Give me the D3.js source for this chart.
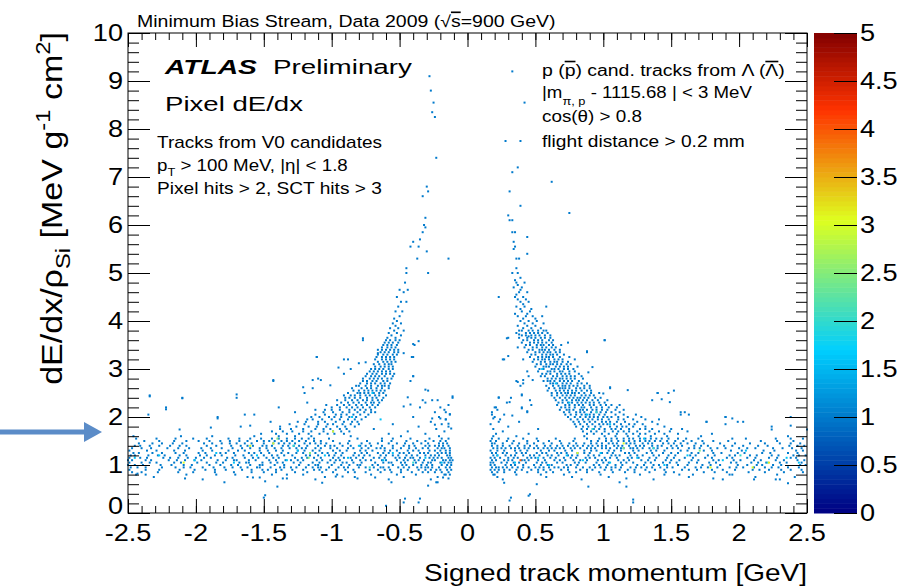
<!DOCTYPE html>
<html>
<head>
<meta charset="utf-8">
<script src="https://cdn.jsdelivr.net/npm/d3@7"></script>
<style>
  html, body { margin: 0; padding: 0; background: #fff; }
  svg { display: block; }
  text { font-family: "Liberation Sans", Arial, Helvetica, sans-serif; fill: #000; }
</style>
</head>
<body>
<div id="chart"></div>
<script>
//////////////////////////////////////////////////////////////////////////////
// Data

var xTicks = [-2.5, -2, -1.5, -1, -0.5, 0, 0.5, 1, 1.5, 2, 2.5];
var xTickLabels = ["-2.5", "-2", "-1.5", "-1", "-0.5", "0", "0.5", "1", "1.5", "2", "2.5"];
var yTicks = [0, 1, 2, 3, 4, 5, 6, 7, 8, 9, 10];
var yTickLabels = ["0", "1", "2", "3", "4", "5", "6", "7", "8", "9", "10"];
var zTicks = [0, 0.5, 1, 1.5, 2, 2.5, 3, 3.5, 4, 4.5, 5];
var zTickLabels = ["0", "0.5", "1", "1.5", "2", "2.5", "3", "3.5", "4", "4.5", "5"];

// filled bins with one entry: [dE/dx, [signed momenta]]
var mipNeg = [
  [0.70, [-1.95, -1.12, -0.58, -0.27]],
  [0.75, [-2.31, -1.62, -1.05, -0.83, -0.47, -0.22]],
  [0.80, [-2.44, -2.07, -1.71, -1.44, -1.33, -0.96, -0.71, -0.52, -0.38, -0.17, -0.13]],
  [0.85, [-2.47, -2.28, -2.02, -1.86, -1.59, -1.41, -1.27, -1.18, -0.99, -0.88, -0.83, -0.64, -0.49, -0.41, -0.33, -0.24, -0.14]],
  [0.90, [-2.49, -2.37, -2.12, -1.93, -1.78, -1.66, -1.51, -1.47, -1.37, -1.29, -1.13, -1.04, -0.97, -0.90, -0.72, -0.61, -0.57, -0.44, -0.36, -0.27, -0.20, -0.15, -0.12]],
  [0.95, [-2.48, -2.43, -2.25, -2.15, -2.04, -1.87, -1.79, -1.73, -1.62, -1.55, -1.53, -1.38, -1.30, -1.26, -1.19, -1.10, -1.08, -0.95, -0.88, -0.80, -0.69, -0.64, -0.62, -0.51, -0.43, -0.37, -0.31, -0.29, -0.21, -0.16, -0.13]],
  [1.00, [-2.50, -2.45, -2.39, -2.26, -2.18, -2.09, -2.03, -1.90, -1.82, -1.74, -1.69, -1.60, -1.53, -1.51, -1.42, -1.35, -1.24, -1.17, -1.12, -1.10, -1.00, -0.93, -0.87, -0.81, -0.79, -0.70, -0.66, -0.55, -0.48, -0.45, -0.40, -0.34, -0.30, -0.26, -0.19, -0.15, -0.12]],
  [1.05, [-2.49, -2.40, -2.34, -2.29, -2.16, -2.11, -1.99, -1.92, -1.85, -1.80, -1.68, -1.63, -1.61, -1.51, -1.45, -1.40, -1.36, -1.28, -1.23, -1.14, -1.09, -1.03, -0.98, -0.92, -0.89, -0.84, -0.78, -0.68, -0.62, -0.58, -0.56, -0.49, -0.46, -0.38, -0.33, -0.29, -0.27, -0.20, -0.17, -0.14, -0.12]],
  [1.10, [-2.50, -2.47, -2.37, -2.33, -2.20, -2.14, -2.08, -2.01, -1.96, -1.84, -1.78, -1.72, -1.70, -1.61, -1.56, -1.46, -1.41, -1.34, -1.30, -1.25, -1.21, -1.11, -1.07, -1.01, -0.97, -0.94, -0.85, -0.79, -0.75, -0.71, -0.63, -0.60, -0.52, -0.47, -0.44, -0.39, -0.36, -0.32, -0.26, -0.24, -0.18, -0.16, -0.13, -0.11]],
  [1.15, [-2.49, -2.41, -2.36, -2.24, -2.19, -2.13, -2.06, -2.00, -1.94, -1.89, -1.77, -1.73, -1.64, -1.58, -1.54, -1.48, -1.43, -1.39, -1.27, -1.22, -1.18, -1.13, -1.08, -0.99, -0.95, -0.91, -0.86, -0.82, -0.77, -0.69, -0.65, -0.61, -0.53, -0.50, -0.46, -0.42, -0.40, -0.35, -0.28, -0.25, -0.22, -0.19, -0.14, -0.12]],
  [1.20, [-2.48, -2.45, -2.35, -2.28, -2.23, -2.12, -2.07, -1.97, -1.92, -1.86, -1.81, -1.71, -1.65, -1.59, -1.50, -1.44, -1.40, -1.35, -1.29, -1.19, -1.16, -1.10, -1.02, -0.98, -0.93, -0.84, -0.80, -0.76, -0.72, -0.64, -0.60, -0.55, -0.51, -0.45, -0.41, -0.37, -0.31, -0.27, -0.24, -0.21, -0.15, -0.13]],
  [1.25, [-2.46, -2.42, -2.32, -2.25, -2.15, -2.09, -1.98, -1.93, -1.82, -1.78, -1.72, -1.61, -1.57, -1.52, -1.46, -1.37, -1.32, -1.26, -1.21, -1.12, -1.07, -1.03, -0.97, -0.92, -0.83, -0.78, -0.74, -0.66, -0.62, -0.58, -0.50, -0.47, -0.43, -0.35, -0.32, -0.29, -0.22, -0.19, -0.16, -0.13]],
  [1.30, [-2.49, -2.36, -2.29, -2.16, -2.08, -1.95, -1.88, -1.76, -1.69, -1.64, -1.53, -1.47, -1.41, -1.36, -1.25, -1.20, -1.14, -1.09, -0.99, -0.94, -0.89, -0.79, -0.75, -0.70, -0.61, -0.57, -0.52, -0.44, -0.40, -0.36, -0.28, -0.24, -0.20, -0.16, -0.13]],
  [1.35, [-2.47, -2.40, -2.21, -2.13, -1.96, -1.89, -1.73, -1.66, -1.60, -1.48, -1.42, -1.31, -1.26, -1.19, -1.08, -1.01, -0.96, -0.84, -0.78, -0.67, -0.61, -0.55, -0.43, -0.38, -0.33, -0.22, -0.17, -0.13]],
  [1.40, [-2.45, -2.34, -2.19, -2.07, -1.85, -1.74, -1.67, -1.58, -1.51, -1.44, -1.32, -1.24, -1.18, -1.05, -0.98, -0.92, -0.79, -0.71, -0.63, -0.47, -0.39, -0.31, -0.24, -0.18, -0.14]],
  [1.45, [-2.42, -2.25, -2.10, -1.94, -1.81, -1.70, -1.59, -1.50, -1.43, -1.35, -1.27, -1.20, -1.12, -1.04, -0.88, -0.78, -0.66, -0.52, -0.40, -0.29, -0.21, -0.15]],
  [1.50, [-2.38, -2.16, -1.98, -1.82, -1.68, -1.55, -1.46, -1.37, -1.29, -1.19, -1.08, -0.99, -0.74, -0.56, -0.37, -0.25, -0.16]],
  [1.55, [-2.29, -2.02, -1.76, -1.60, -1.44, -1.33, -1.22, -1.13, -1.02, -0.63, -0.42, -0.19, -0.14]],
  [1.60, [-2.46, -2.11, -1.88, -1.57, -1.39, -1.27, -1.15, -0.86, -0.49, -0.21]]
];

var mipNegEdge = [
  [0.85, [-2.40, -2.13, -1.72, -1.50, -1.07, -0.75, -0.56, -0.29, -0.19]],
  [0.90, [-2.27, -2.01, -1.86, -1.59, -1.41, -1.21, -1.09, -0.84, -0.66, -0.49, -0.31, -0.23]],
  [0.95, [-2.37, -2.09, -1.95, -1.67, -1.45, -1.35, -1.14, -1.02, -0.91, -0.75, -0.58, -0.47, -0.34, -0.26]],
  [1.35, [-2.33, -2.05, -1.81, -1.53, -1.37, -1.22, -1.12, -0.88, -0.73, -0.64, -0.49, -0.29, -0.19]],
  [1.40, [-2.41, -2.27, -2.12, -1.92, -1.62, -1.48, -1.36, -1.28, -1.10, -1.01, -0.86, -0.75, -0.55, -0.43, -0.28, -0.21]],
  [1.45, [-2.32, -2.17, -1.88, -1.75, -1.64, -1.39, -1.31, -1.16, -1.08, -0.94, -0.72, -0.58, -0.46, -0.34, -0.18]],
  [1.50, [-2.27, -2.07, -1.90, -1.75, -1.62, -1.50, -1.42, -1.33, -1.24, -1.13, -0.87, -0.63, -0.45, -0.31, -0.20]],
  [1.55, [-2.44, -2.15, -1.92, -1.68, -1.52, -1.39, -1.27, -1.17, -0.81, -0.55, -0.28]]
];

var mipPos = [
  [0.70, [0.26, 0.84, 1.37, 1.88, 2.30]],
  [0.75, [0.22, 0.58, 0.77, 1.04, 1.63, 2.12, 2.41]],
  [0.80, [0.19, 0.36, 0.54, 0.71, 0.98, 1.27, 1.45, 1.66, 1.95, 2.28]],
  [0.85, [0.18, 0.27, 0.44, 0.52, 0.63, 0.80, 0.97, 1.07, 1.16, 1.34, 1.52, 1.74, 1.91, 2.07, 2.33, 2.47]],
  [0.90, [0.17, 0.23, 0.31, 0.40, 0.47, 0.52, 0.61, 0.69, 0.83, 0.92, 1.01, 1.12, 1.23, 1.31, 1.45, 1.58, 1.69, 1.80, 1.97, 2.10, 2.22, 2.38, 2.46]],
  [0.95, [0.18, 0.21, 0.26, 0.33, 0.37, 0.45, 0.50, 0.56, 0.64, 0.71, 0.74, 0.85, 0.90, 0.98, 1.06, 1.13, 1.20, 1.28, 1.36, 1.42, 1.51, 1.60, 1.68, 1.77, 1.84, 1.93, 2.03, 2.11, 2.19, 2.29, 2.36, 2.44]],
  [1.00, [0.17, 0.20, 0.28, 0.32, 0.35, 0.41, 0.49, 0.54, 0.59, 0.62, 0.73, 0.76, 0.81, 0.93, 0.97, 1.03, 1.09, 1.14, 1.25, 1.30, 1.37, 1.41, 1.47, 1.55, 1.62, 1.73, 1.79, 1.86, 1.99, 2.06, 2.13, 2.17, 2.25, 2.31, 2.45, 2.49]],
  [1.05, [0.17, 0.19, 0.25, 0.29, 0.34, 0.38, 0.43, 0.51, 0.55, 0.58, 0.66, 0.70, 0.79, 0.82, 0.87, 0.95, 1.00, 1.04, 1.13, 1.17, 1.22, 1.31, 1.35, 1.44, 1.49, 1.54, 1.63, 1.69, 1.78, 1.83, 1.94, 1.98, 2.09, 2.14, 2.20, 2.30, 2.35, 2.46]],
  [1.10, [0.18, 0.21, 0.27, 0.30, 0.33, 0.40, 0.42, 0.45, 0.52, 0.57, 0.64, 0.68, 0.72, 0.78, 0.83, 0.88, 0.96, 0.99, 1.02, 1.11, 1.15, 1.19, 1.28, 1.33, 1.38, 1.46, 1.50, 1.56, 1.65, 1.70, 1.81, 1.85, 1.96, 2.01, 2.11, 2.16, 2.27, 2.33, 2.43, 2.48]],
  [1.15, [0.17, 0.20, 0.24, 0.30, 0.34, 0.37, 0.44, 0.47, 0.50, 0.56, 0.61, 0.65, 0.71, 0.76, 0.80, 0.87, 0.90, 0.94, 1.01, 1.05, 1.10, 1.18, 1.21, 1.26, 1.34, 1.39, 1.47, 1.52, 1.60, 1.66, 1.75, 1.80, 1.91, 1.95, 2.06, 2.12, 2.22, 2.28, 2.38, 2.42]],
  [1.20, [0.19, 0.22, 0.28, 0.32, 0.35, 0.41, 0.46, 0.49, 0.53, 0.59, 0.62, 0.67, 0.74, 0.77, 0.81, 0.89, 0.93, 0.97, 1.06, 1.09, 1.12, 1.20, 1.25, 1.29, 1.37, 1.41, 1.48, 1.53, 1.64, 1.68, 1.77, 1.82, 1.93, 1.97, 2.08, 2.13, 2.24, 2.29, 2.40, 2.44, 2.49]],
  [1.25, [0.18, 0.21, 0.26, 0.29, 0.36, 0.40, 0.43, 0.51, 0.55, 0.58, 0.66, 0.69, 0.73, 0.81, 0.86, 0.90, 0.99, 1.03, 1.07, 1.16, 1.19, 1.23, 1.32, 1.36, 1.44, 1.50, 1.55, 1.65, 1.70, 1.81, 1.87, 1.99, 2.04, 2.17, 2.23, 2.36, 2.43]],
  [1.30, [0.17, 0.22, 0.27, 0.35, 0.39, 0.44, 0.54, 0.60, 0.64, 0.72, 0.77, 0.86, 0.91, 0.95, 1.04, 1.08, 1.13, 1.22, 1.26, 1.35, 1.39, 1.45, 1.57, 1.62, 1.74, 1.80, 1.94, 2.02, 2.18, 2.26, 2.42, 2.47]],
  [1.35, [0.19, 0.25, 0.32, 0.38, 0.45, 0.52, 0.59, 0.65, 0.71, 0.76, 0.83, 0.88, 0.94, 0.99, 1.05, 1.10, 1.15, 1.20, 1.25, 1.29, 1.34, 1.40, 1.47, 1.55, 1.63, 1.71, 1.79, 1.90, 2.00, 2.12, 2.25, 2.39, 2.46]],
  [1.40, [0.18, 0.26, 0.37, 0.46, 0.57, 0.66, 0.74, 0.81, 0.89, 0.96, 1.02, 1.08, 1.14, 1.19, 1.24, 1.30, 1.36, 1.43, 1.50, 1.58, 1.67, 1.77, 1.89, 2.03, 2.21, 2.37, 2.48]],
  [1.45, [0.20, 0.33, 0.49, 0.62, 0.75, 0.86, 0.95, 1.04, 1.10, 1.17, 1.23, 1.29, 1.36, 1.44, 1.52, 1.62, 1.74, 1.86, 2.08, 2.30, 2.45]],
  [1.50, [0.17, 0.29, 0.44, 0.68, 0.91, 1.02, 1.11, 1.19, 1.27, 1.34, 1.42, 1.53, 1.65, 1.81, 2.16, 2.40]],
  [1.55, [0.23, 0.41, 0.79, 0.97, 1.06, 1.15, 1.22, 1.31, 1.39, 1.48, 1.61, 1.95, 2.27, 2.47]],
  [1.60, [0.19, 0.36, 0.86, 1.01, 1.09, 1.18, 1.26, 1.35, 1.47, 1.72, 2.36]]
];

var mipPosEdge = [
  [0.85, [0.22, 0.35, 0.58, 0.75, 0.88, 1.23, 1.46, 1.82, 2.19]],
  [0.90, [0.20, 0.27, 0.36, 0.56, 0.74, 0.88, 1.06, 1.18, 1.38, 1.63, 1.88, 2.15, 2.31]],
  [0.95, [0.23, 0.29, 0.41, 0.53, 0.60, 0.67, 0.80, 0.94, 1.02, 1.09, 1.24, 1.32, 1.47, 1.72, 1.98, 2.24]],
  [1.35, [0.22, 0.28, 0.35, 0.42, 0.49, 0.56, 0.62, 0.68, 0.79, 0.91, 1.02, 1.13, 1.22, 1.37, 1.51, 1.67, 1.84, 2.06, 2.32]],
  [1.40, [0.22, 0.31, 0.42, 0.51, 0.61, 0.70, 0.78, 0.85, 0.92, 0.99, 1.11, 1.27, 1.40, 1.54, 1.72, 1.95, 2.14, 2.43]],
  [1.45, [0.18, 0.26, 0.38, 0.44, 0.56, 0.69, 0.80, 0.91, 0.99, 1.07, 1.20, 1.33, 1.48, 1.57, 1.68, 1.97, 2.19, 2.38]],
  [1.50, [0.21, 0.34, 0.52, 0.60, 0.78, 0.96, 1.06, 1.15, 1.23, 1.31, 1.38, 1.47, 1.59, 1.73, 1.92, 2.28]],
  [1.55, [0.18, 0.30, 0.51, 0.65, 0.88, 1.02, 1.10, 1.19, 1.27, 1.35, 1.43, 1.55, 1.70, 2.05, 2.38]]
];

var protonNeg = [
  [1.65, [-1.52, -1.41, -1.33, -1.24, -1.17, -1.09, -1.03, -0.98, -0.91, -0.58, -0.31]],
  [1.70, [-1.44, -1.36, -1.29, -1.21, -1.15, -1.06, -0.99, -0.93, -0.87, -0.44, -0.17]],
  [1.75, [-1.38, -1.30, -1.21, -1.12, -1.06, -1.01, -0.94, -0.89, -0.69, -0.23]],
  [1.80, [-1.67, -1.38, -1.26, -1.17, -1.11, -1.04, -0.96, -0.90, -0.83, -0.36, -0.14]],
  [1.85, [-1.31, -1.20, -1.10, -1.03, -0.99, -0.92, -0.86, -0.80, -0.55, -0.19]],
  [1.90, [-1.45, -1.25, -1.19, -1.10, -1.05, -0.97, -0.91, -0.85, -0.81, -0.27]],
  [1.95, [-1.18, -1.14, -1.07, -1.00, -0.94, -0.88, -0.83, -0.78, -0.16]],
  [2.00, [-1.84, -1.15, -1.09, -1.02, -0.98, -0.93, -0.87, -0.82, -0.75, -0.40, -0.21]],
  [2.05, [-1.57, -1.12, -1.05, -0.97, -0.93, -0.89, -0.84, -0.79, -0.73, -0.13]],
  [2.10, [-1.27, -1.06, -0.99, -0.92, -0.87, -0.81, -0.76, -0.71, -0.68, -0.24]],
  [2.15, [-1.12, -1.05, -1.00, -0.94, -0.87, -0.83, -0.79, -0.75, -0.71, -0.17]],
  [2.20, [-2.22, -1.39, -1.00, -0.94, -0.89, -0.85, -0.81, -0.77, -0.72, -0.68, -0.35, -0.20]],
  [2.25, [-1.04, -0.96, -0.91, -0.87, -0.82, -0.78, -0.74, -0.70, -0.66, -0.14]],
  [2.30, [-1.18, -0.93, -0.88, -0.84, -0.80, -0.75, -0.71, -0.69, -0.65, -0.31]],
  [2.35, [-0.96, -0.90, -0.85, -0.81, -0.77, -0.74, -0.70, -0.66, -0.63, -0.22]],
  [2.40, [-2.10, -1.70, -0.90, -0.87, -0.83, -0.79, -0.74, -0.70, -0.67, -0.62, -0.11]],
  [2.45, [-2.34, -0.91, -0.86, -0.83, -0.79, -0.75, -0.72, -0.68, -0.65, -0.60]],
  [2.50, [-1.20, -0.88, -0.81, -0.79, -0.76, -0.73, -0.69, -0.65, -0.62]],
  [2.55, [-0.84, -0.80, -0.76, -0.73, -0.70, -0.67, -0.64, -0.61, -0.29]],
  [2.60, [-1.14, -0.85, -0.78, -0.74, -0.71, -0.67, -0.63, -0.58]],
  [2.65, [-0.82, -0.80, -0.75, -0.71, -0.66, -0.63, -0.61, -0.58]],
  [2.70, [-0.79, -0.74, -0.71, -0.68, -0.64, -0.61, -0.57]],
  [2.75, [-1.43, -0.77, -0.74, -0.70, -0.67, -0.62, -0.59, -0.42]],
  [2.80, [-1.10, -0.77, -0.72, -0.69, -0.66, -0.63, -0.59, -0.56]],
  [2.85, [-0.75, -0.71, -0.68, -0.65, -0.61, -0.55, -0.40]],
  [2.90, [-0.74, -0.70, -0.67, -0.63, -0.60, -0.57, -0.54]],
  [2.95, [-0.72, -0.69, -0.66, -0.63, -0.60, -0.57]],
  [3.00, [-0.86, -0.71, -0.68, -0.65, -0.62, -0.58, -0.55]],
  [3.05, [-0.68, -0.64, -0.61, -0.58, -0.55]],
  [3.10, [-0.69, -0.65, -0.61, -0.58, -0.56]],
  [3.15, [-0.66, -0.62, -0.59, -0.56, -0.53]],
  [3.20, [-0.91, -0.68, -0.63, -0.60, -0.57, -0.54]],
  [3.25, [-1.11, -0.67, -0.63, -0.60, -0.57, -0.54, -0.41]],
  [3.30, [-0.66, -0.62, -0.59, -0.55, -0.52]],
  [3.35, [-0.64, -0.61, -0.58, -0.54, -0.51]],
  [3.40, [-0.63, -0.60, -0.57, -0.54, -0.51]],
  [3.45, [-0.63, -0.59, -0.56, -0.53]],
  [3.50, [-0.62, -0.59, -0.56, -0.52, -0.39]],
  [3.55, [-0.61, -0.58, -0.55, -0.51]],
  [3.60, [-0.77, -0.60, -0.57, -0.53, -0.50]],
  [3.65, [-0.59, -0.53]],
  [3.70, [-0.56, -0.49]],
  [3.75, [-0.58, -0.52]],
  [3.80, [-0.54, -0.47]],
  [3.85, [-0.57, -0.51]],
  [3.90, [-0.53]],
  [3.95, [-0.55, -0.49]],
  [4.00, [-0.52]],
  [4.05, [-0.54]],
  [4.10, [-0.50]],
  [4.20, [-0.53, -0.48]],
  [4.30, [-0.51]],
  [4.40, [-0.49, -0.45]],
  [4.50, [-0.52]],
  [4.60, [-0.47]],
  [4.65, [-0.50, -0.44]],
  [4.80, [-0.46]],
  [5.00, [-0.45, -0.29]],
  [5.10, [-0.45]],
  [5.30, [-0.37, -0.14]],
  [5.45, [-0.30]],
  [5.55, [-0.36, -0.42]],
  [5.65, [-0.40]],
  [5.70, [-0.35]],
  [5.85, [-0.33]],
  [5.95, [-0.31]],
  [6.00, [-0.32]],
  [6.15, [-0.31]],
  [6.60, [-0.33]],
  [6.70, [-0.29]],
  [6.80, [-0.30]],
  [7.40, [-0.23]],
  [8.25, [-0.24]],
  [8.35, [-0.26]],
  [8.55, [-0.25]],
  [8.80, [-0.27]],
  [9.10, [-0.28]]
];

var protonPos = [
  [1.65, [0.21, 0.45, 0.88, 0.93, 0.99, 1.04, 1.10, 1.17, 1.22, 1.27, 1.31, 1.38, 1.45, 1.55, 1.80]],
  [1.70, [0.26, 0.85, 0.91, 0.95, 1.01, 1.07, 1.11, 1.15, 1.19, 1.25, 1.34, 1.41, 1.49, 1.62]],
  [1.75, [0.19, 0.52, 0.84, 0.88, 0.93, 0.97, 1.01, 1.06, 1.09, 1.13, 1.19, 1.27, 1.31, 1.36, 1.50, 1.58]],
  [1.80, [0.30, 0.80, 0.85, 0.89, 0.94, 0.98, 1.05, 1.10, 1.14, 1.17, 1.22, 1.31, 1.45, 2.24]],
  [1.85, [0.17, 0.79, 0.83, 0.88, 0.92, 0.97, 1.00, 1.03, 1.08, 1.13, 1.19, 1.23, 1.29, 1.40, 1.90]],
  [1.90, [0.38, 0.78, 0.82, 0.86, 0.90, 0.94, 0.99, 1.02, 1.05, 1.10, 1.16, 1.25, 1.36, 1.76, 2.03]],
  [1.95, [0.24, 0.76, 0.81, 0.85, 0.89, 0.92, 0.96, 0.99, 1.04, 1.11, 1.15, 1.22, 1.31, 1.41]],
  [2.00, [0.20, 0.74, 0.79, 0.83, 0.87, 0.90, 0.93, 0.96, 1.00, 1.03, 1.06, 1.11, 1.18, 1.28, 1.90, 2.38]],
  [2.05, [0.27, 0.72, 0.76, 0.80, 0.84, 0.87, 0.90, 0.93, 0.97, 1.01, 1.09, 1.15, 1.24, 1.57]],
  [2.10, [0.18, 0.44, 0.71, 0.75, 0.80, 0.83, 0.86, 0.91, 0.95, 0.98, 1.02, 1.06, 1.12, 1.60]],
  [2.15, [0.22, 0.68, 0.73, 0.75, 0.78, 0.83, 0.85, 0.88, 0.92, 0.95, 0.99, 1.03, 1.09, 1.15]],
  [2.20, [0.20, 0.40, 0.69, 0.72, 0.75, 0.79, 0.84, 0.86, 0.91, 0.95, 0.99, 1.04, 1.10]],
  [2.25, [0.47, 0.66, 0.72, 0.75, 0.79, 0.82, 0.85, 0.90, 0.93, 0.98, 1.02, 1.06, 1.12]],
  [2.30, [0.29, 0.67, 0.70, 0.74, 0.77, 0.81, 0.84, 0.87, 0.90, 0.93, 0.97, 1.01]],
  [2.35, [0.65, 0.70, 0.73, 0.77, 0.80, 0.82, 0.85, 0.88, 0.92, 0.96, 1.03, 1.36]],
  [2.40, [0.23, 0.32, 0.64, 0.68, 0.72, 0.75, 0.78, 0.81, 0.83, 0.86, 0.89, 0.94, 0.98]],
  [2.45, [0.40, 0.62, 0.66, 0.70, 0.73, 0.76, 0.79, 0.84, 0.87, 0.90, 0.93]],
  [2.50, [0.62, 0.66, 0.69, 0.72, 0.74, 0.77, 0.79, 0.82, 0.86, 0.91, 0.97, 1.40, 1.48]],
  [2.55, [0.59, 0.65, 0.68, 0.71, 0.74, 0.77, 0.80, 0.84, 0.88, 0.91, 1.52]],
  [2.60, [0.60, 0.64, 0.68, 0.70, 0.72, 0.75, 0.80, 0.83, 0.86, 0.90, 1.05]],
  [2.65, [0.39, 0.58, 0.63, 0.67, 0.70, 0.72, 0.75, 0.78, 0.81, 0.86, 0.90]],
  [2.70, [0.41, 0.61, 0.63, 0.66, 0.70, 0.73, 0.76, 0.81, 0.84, 0.88]],
  [2.75, [0.36, 0.56, 0.59, 0.61, 0.64, 0.68, 0.71, 0.74, 0.77, 0.82]],
  [2.80, [0.59, 0.62, 0.65, 0.68, 0.70, 0.73, 0.76, 0.79, 0.85]],
  [2.85, [0.45, 0.54, 0.57, 0.63, 0.66, 0.70, 0.73, 0.76, 0.79, 0.84]],
  [2.90, [0.55, 0.58, 0.61, 0.66, 0.69, 0.72, 0.75, 0.82]],
  [2.95, [0.44, 0.52, 0.59, 0.61, 0.64, 0.68, 0.70, 0.75, 0.79]],
  [3.00, [0.53, 0.56, 0.62, 0.64, 0.67, 0.71, 0.74, 0.78]],
  [3.05, [0.50, 0.56, 0.58, 0.60, 0.65, 0.68, 0.71, 0.74, 0.81]],
  [3.10, [0.51, 0.54, 0.58, 0.61, 0.63, 0.66, 0.69, 0.73, 0.76]],
  [3.15, [0.48, 0.54, 0.57, 0.61, 0.64, 0.66, 0.70, 0.74]],
  [3.20, [0.27, 0.49, 0.52, 0.55, 0.57, 0.60, 0.64, 0.67, 0.70]],
  [3.25, [0.46, 0.52, 0.55, 0.58, 0.60, 0.63, 0.68, 0.75]],
  [3.30, [0.47, 0.50, 0.55, 0.58, 0.61, 0.63, 0.66, 0.71]],
  [3.35, [0.44, 0.50, 0.53, 0.56, 0.59, 0.61, 0.65, 0.68, 0.88]],
  [3.40, [0.45, 0.48, 0.53, 0.55, 0.57, 0.60, 0.64, 0.68]],
  [3.45, [0.42, 0.48, 0.51, 0.55, 0.58, 0.62, 0.65]],
  [3.50, [0.43, 0.46, 0.51, 0.54, 0.56, 0.60, 0.63, 0.69]],
  [3.55, [0.40, 0.46, 0.49, 0.52, 0.55, 0.58, 0.62, 0.74]],
  [3.60, [0.41, 0.44, 0.49, 0.52, 0.55, 0.60, 0.63, 1.01]],
  [3.65, [0.30, 0.38, 0.44, 0.47, 0.50, 0.54, 0.57, 0.61]],
  [3.70, [0.40, 0.43, 0.47, 0.50, 0.53, 0.57, 0.61]],
  [3.75, [0.36, 0.43, 0.46, 0.49, 0.52, 0.55, 0.59]],
  [3.80, [0.38, 0.40, 0.45, 0.48, 0.52, 0.56, 0.58]],
  [3.85, [0.41, 0.47, 0.54]],
  [3.90, [0.37, 0.44, 0.50]],
  [3.95, [0.42, 0.48, 0.56]],
  [4.00, [0.39, 0.45, 0.51]],
  [4.05, [0.41, 0.50]],
  [4.10, [0.37, 0.43, 0.48, 0.55]],
  [4.15, [0.35, 0.44]],
  [4.20, [0.40, 0.46]],
  [4.25, [0.39, 0.47]],
  [4.30, [0.36, 0.42, 0.58]],
  [4.35, [0.41]],
  [4.40, [0.39, 0.45]],
  [4.45, [0.37, 0.43]],
  [4.50, [0.23, 0.35, 0.41]],
  [4.55, [0.36]],
  [4.60, [0.38, 0.44]],
  [4.65, [0.39]],
  [4.70, [0.34, 0.40]],
  [4.75, [0.37]],
  [4.80, [0.36, 0.42]],
  [4.85, [0.35]],
  [4.90, [0.39]],
  [5.00, [0.33, 0.37]],
  [5.10, [0.36]],
  [5.30, [0.36, 0.38]],
  [5.40, [0.44]],
  [5.50, [0.34]],
  [5.55, [0.35]],
  [5.65, [0.34]],
  [5.75, [0.44]],
  [5.85, [0.33, 0.35]],
  [6.10, [0.31, 0.33]],
  [6.20, [0.30]],
  [6.25, [0.75]],
  [6.40, [0.39]],
  [6.70, [0.31]],
  [6.90, [0.62]],
  [7.10, [0.33]],
  [7.20, [0.37]],
  [7.75, [0.28, 0.39]],
  [8.55, [0.42]],
  [9.20, [0.33]]
];

// isolated entries: [signed momentum, dE/dx]
var strays = [
  [-2.34, 2.43], [-2.10, 2.39], [-2.22, 2.16], [-2.35, 2.05], [-2.12, 1.74], [-1.84, 1.97], [-1.89, 1.78],
  [-1.70, 2.47], [-1.64, 2.05], [-1.43, 2.77], [-1.60, 1.82], [-1.14, 2.77], [-1.08, 2.77], [-1.21, 2.62],
  [-1.11, 3.25], [-1.01, 2.66], [-0.95, 3.03], [-0.88, 3.20], [-0.91, 2.90], [-0.77, 3.64], [-0.80, 3.12],
  [-0.75, 3.14], [-0.66, 3.33], [-0.66, 3.40], [-0.40, 3.52], [-0.36, 3.58], [-0.40, 3.25], [-0.47, 3.33],
  [-0.40, 2.85], [-0.31, 2.57], [-0.44, 2.41], [-0.42, 2.26], [-0.33, 2.35], [-0.26, 2.35], [-0.47, 2.22],
  [-0.11, 2.43], [-0.16, 2.10], [-0.13, 2.06], [-0.26, 1.97], [-0.20, 1.97], [-0.16, 1.95], [-0.24, 1.84],
  [-0.14, 1.86], [-0.12, 1.76],
  [-2.43, 0.82], [-2.37, 0.80], [-2.08, 0.72], [-1.85, 0.80], [-1.79, 0.64], [-1.49, 0.66], [-1.40, 0.55],
  [-1.49, 0.37], [-1.58, 0.74], [-1.53, 0.74], [-1.36, 0.72], [-1.33, 0.72], [-1.21, 0.80], [-1.07, 0.63],
  [-0.97, 0.76], [-0.92, 0.76], [-0.81, 0.72], [-0.68, 0.74], [-0.56, 0.64], [-0.46, 0.30], [-0.35, 0.30],
  [-0.29, 0.57], [-0.23, 0.64], [-0.18, 0.74], [-0.14, 0.72], [-0.16, 0.80], [-0.22, 0.64], [-0.60, 0.15],
  [-0.47, 0.22], [-0.36, 0.22], [-1.50, 0.32],
  [0.29, 3.64], [0.38, 3.72], [0.45, 3.68], [1.01, 3.60], [0.88, 3.37], [0.26, 3.20], [0.30, 3.27],
  [0.37, 3.45], [0.41, 3.20], [0.79, 3.20], [0.92, 3.04], [0.89, 2.93], [0.37, 2.73], [0.41, 2.77],
  [0.48, 2.77], [1.05, 2.62], [1.00, 2.49], [0.40, 2.47], [0.46, 2.35], [0.23, 2.41], [0.31, 2.31],
  [1.18, 2.56], [1.40, 2.50], [1.43, 2.37], [1.49, 2.31], [0.21, 2.20], [0.40, 2.18], [0.44, 2.12],
  [0.18, 2.05], [0.33, 2.03], [1.57, 2.10], [1.63, 2.05], [0.23, 1.90], [0.19, 1.97], [1.76, 1.90],
  [1.90, 2.00], [1.95, 1.97], [1.99, 1.90], [2.24, 1.74], [2.38, 1.82], [2.50, 1.74],
  [0.20, 0.80], [0.27, 0.63], [0.32, 0.32], [0.46, 0.39], [0.51, 0.60], [0.89, 0.55], [1.22, 0.28],
  [1.17, 0.55], [1.12, 0.64], [1.17, 0.72], [1.56, 0.80], [1.81, 0.72], [1.93, 0.80], [2.11, 0.70],
  [2.27, 0.70], [2.36, 0.62], [0.31, 0.26], [0.45, 0.36], [1.22, 0.22]
];

// bins holding more than one entry: [signed momentum, dE/dx, content]
var hotBins = [
  [-1.60, 1.40, 3], [-1.40, 1.55, 2.5], [-1.28, 1.40, 2], [-1.17, 1.15, 2.5], [-0.99, 1.70, 3],
  [-2.09, 1.05, 3], [-0.40, 1.05, 2], [-0.72, 0.95, 2], [0.39, 1.10, 4], [1.15, 1.35, 2.5],
  [1.37, 1.35, 2], [1.71, 1.30, 2.5], [1.79, 0.95, 3], [2.01, 1.20, 2], [2.21, 1.05, 2],
  [2.10, 0.95, 3], [0.95, 2.10, 2], [0.92, 1.75, 2], [1.15, 1.45, 3], [0.81, 1.25, 3],
  [-1.43, 1.45, 3], [-1.16, 1.25, 2.5], [2.22, 1.05, 3.2],
  [-2.45, 1.15, 1.6], [-2.27, 1.20, 1.6], [-2.01, 1.10, 1.6], [-1.85, 1.25, 1.6], [-1.72, 1.05, 1.6],
  [-1.55, 1.20, 1.6], [-1.33, 1.10, 1.6], [-1.25, 1.30, 1.6], [-1.05, 1.20, 1.6], [-0.88, 1.15, 1.6],
  [-0.80, 1.40, 1.6], [-0.62, 1.10, 1.6], [-0.55, 1.25, 1.6], [-0.31, 1.15, 1.6], [-0.19, 1.05, 1.6],
  [-0.85, 2.00, 1.6], [-0.70, 2.50, 1.6], [-0.64, 1.95, 1.6], [0.22, 1.20, 1.6], [0.35, 1.05, 1.6],
  [0.52, 1.15, 1.6], [0.60, 1.00, 1.6], [0.73, 1.20, 1.6], [0.85, 1.10, 1.6], [0.98, 1.25, 1.6],
  [1.05, 1.05, 1.6], [1.25, 1.15, 1.6], [1.45, 1.00, 1.6], [1.62, 1.20, 1.6], [1.88, 1.10, 1.6],
  [2.05, 1.30, 1.6], [2.35, 1.15, 1.6], [2.44, 1.05, 1.6], [0.65, 2.70, 1.6], [0.75, 2.30, 1.6],
  [0.55, 3.00, 1.6], [1.05, 1.85, 1.6], [0.88, 2.05, 1.6], [1.30, 1.55, 1.6]
];

//////////////////////////////////////////////////////////////////////////////
// Layout

var width = 908, height = 586;
var frame = { left: 128, right: 807, top: 33, bottom: 513 };
var pal = { left: 814, right: 857 };
var stretch = 1.18;  // the picture is wider than the ROOT canvas it came from

var xScale = d3.scaleLinear().domain([-2.5, 2.5]).range([frame.left, frame.right]);
var yScale = d3.scaleLinear().domain([0, 10]).range([frame.bottom, frame.top]);
var zScale = d3.scaleLinear().domain([0, 5]).range([frame.bottom, frame.top]);

// ROOT "pretty palette"
var colorZ = d3.scaleLinear()
    .domain([0, 1.7, 3.05, 4.2, 5])
    .range(["rgb(0,0,130)", "rgb(0,207,255)", "rgb(222,255,31)", "rgb(255,51,0)", "rgb(130,0,0)"])
    .interpolate(d3.interpolateRgb);

var svg = d3.select("#chart").append("svg")
    .attr("width", width)
    .attr("height", height);

// text squeezed or stretched to the width it takes in the picture
function fitText(sel, x, y, w, size, build, anchor)
{
    var t = sel.append("text")
        .attr("font-size", size)
        .attr("text-anchor", anchor || "start");
    build(t);
    var len = t.node().getComputedTextLength();
    t.attr("transform", "translate(" + x + "," + y + ") scale(" + (w / len) + ",1)");
    return t;
}

function plainText(sel, x, y, size, str, anchor)
{
    return sel.append("text")
        .attr("font-size", size)
        .attr("text-anchor", anchor || "middle")
        .attr("transform", "translate(" + x + "," + y + ") scale(" + stretch + ",1)")
        .text(str);
}

//////////////////////////////////////////////////////////////////////////////
// Histogram bins

var bins = [];
mipNeg.concat(mipNegEdge, mipPos, mipPosEdge, protonNeg, protonPos).forEach(function(row) {
    row[1].forEach(function(p) { bins.push({ p: p, v: row[0], z: 1 }); });
});
strays.forEach(function(d) { bins.push({ p: d[0], v: d[1], z: 1 }); });
hotBins.forEach(function(d) { bins.push({ p: d[0], v: d[1], z: d[2] }); });

svg.append("g")
    .selectAll("rect")
    .data(bins)
    .enter()
    .append("rect")
    .attr("x", function(d) { return xScale(d.p) - 1; })
    .attr("y", function(d) { return yScale(d.v) - 1; })
    .attr("width", 2)
    .attr("height", 2)
    .attr("fill", function(d) { return colorZ(d.z); });

//////////////////////////////////////////////////////////////////////////////
// Frame and axes (ticks on all four sides, pointing inwards)

function noDomain(g) { g.select(".domain").remove(); g.selectAll("line").attr("stroke", "#000"); }

svg.append("g").attr("transform", "translate(0," + frame.bottom + ")")
    .call(d3.axisBottom(xScale).tickValues(xScale.ticks(50)).tickSize(-7).tickFormat("")).call(noDomain);
svg.append("g").attr("transform", "translate(0," + frame.bottom + ")")
    .call(d3.axisBottom(xScale).tickValues(xTicks).tickSize(-14).tickFormat("")).call(noDomain);
svg.append("g").attr("transform", "translate(0," + frame.top + ")")
    .call(d3.axisTop(xScale).tickValues(xScale.ticks(50)).tickSize(-7).tickFormat("")).call(noDomain);
svg.append("g").attr("transform", "translate(0," + frame.top + ")")
    .call(d3.axisTop(xScale).tickValues(xTicks).tickSize(-14).tickFormat("")).call(noDomain);

svg.append("g").attr("transform", "translate(" + frame.left + ",0)")
    .call(d3.axisLeft(yScale).tickValues(yScale.ticks(50)).tickSize(-11).tickFormat("")).call(noDomain);
svg.append("g").attr("transform", "translate(" + frame.left + ",0)")
    .call(d3.axisLeft(yScale).tickValues(yTicks).tickSize(-22).tickFormat("")).call(noDomain);
svg.append("g").attr("transform", "translate(" + frame.right + ",0)")
    .call(d3.axisRight(yScale).tickValues(yScale.ticks(50)).tickSize(-11).tickFormat("")).call(noDomain);
svg.append("g").attr("transform", "translate(" + frame.right + ",0)")
    .call(d3.axisRight(yScale).tickValues(yTicks).tickSize(-22).tickFormat("")).call(noDomain);

svg.append("rect")
    .attr("x", frame.left).attr("y", frame.top)
    .attr("width", frame.right - frame.left).attr("height", frame.bottom - frame.top)
    .attr("fill", "none").attr("stroke", "#000").attr("stroke-width", 1);

xTicks.forEach(function(v, i) {
    plainText(svg, xScale(v), frame.bottom + 28, 23, xTickLabels[i], "middle");
});
yTicks.forEach(function(v, i) {
    plainText(svg, frame.left - 5, yScale(v) + (v === 0 ? 1 : 8), 23, yTickLabels[i], "end");
});

//////////////////////////////////////////////////////////////////////////////
// Colour palette

var zSteps = d3.range(0, 5, 0.05);
svg.append("g")
    .selectAll("rect")
    .data(zSteps)
    .enter()
    .append("rect")
    .attr("x", pal.left)
    .attr("y", function(d) { return zScale(d + 0.05); })
    .attr("width", pal.right - pal.left)
    .attr("height", function(d) { return zScale(d) - zScale(d + 0.05) + 0.5; })
    .attr("fill", function(d) { return colorZ(d + 0.025); });

svg.append("g").attr("transform", "translate(" + pal.right + ",0)")
    .call(d3.axisRight(zScale).tickValues(zTicks).tickSize(-23).tickFormat("")).call(noDomain);

zTicks.forEach(function(v, i) {
    plainText(svg, pal.right + 3, zScale(v) + 8, 23, zTickLabels[i], "start");
});

//////////////////////////////////////////////////////////////////////////////
// Titles and labels

fitText(svg, 137, 27, 419, 16.5, function(t) {
    t.append("tspan").text("Minimum Bias Stream, Data 2009 (\u221A");
    t.append("tspan").attr("text-decoration", "overline").text("s");
    t.append("tspan").text("=900 GeV)");
});

fitText(svg, 165, 74, 92, 20.5, function(t) {
    t.attr("font-weight", "bold").attr("font-style", "italic").text("ATLAS");
});
fitText(svg, 273, 74, 139, 20.5, function(t) { t.text("Preliminary"); });
fitText(svg, 165, 111, 138, 20.5, function(t) { t.text("Pixel dE/dx"); });

fitText(svg, 157, 148, 225, 16, function(t) { t.text("Tracks from V0 candidates"); });
fitText(svg, 157, 171, 191, 16, function(t) {
    t.append("tspan").text("p");
    t.append("tspan").attr("font-size", 11).attr("dy", 5).text("T");
    t.append("tspan").attr("dy", -5).text(" > 100 MeV, |\u03B7| < 1.8");
});
fitText(svg, 157, 194, 225, 16, function(t) { t.text("Pixel hits > 2, SCT hits > 3"); });

fitText(svg, 542, 76, 243, 16, function(t) {
    t.append("tspan").text("p (");
    t.append("tspan").attr("text-decoration", "overline").text("p");
    t.append("tspan").text(") cand. tracks from \u039B (");
    t.append("tspan").attr("text-decoration", "overline").text("\u039B");
    t.append("tspan").text(")");
});
fitText(svg, 542, 98, 210, 16, function(t) {
    t.append("tspan").text("|m");
    t.append("tspan").attr("font-size", 11).attr("dy", 7).text("\u03C0, p");
    t.append("tspan").attr("dy", -7).text(" - 1115.68 | < 3 MeV");
});
fitText(svg, 542, 122, 100, 16, function(t) { t.text("cos(\u03B8) > 0.8"); });
fitText(svg, 542, 147, 203, 16, function(t) { t.text("flight distance > 0.2 mm"); });

fitText(svg, 807, 581, 383, 24, function(t) { t.text("Signed track momentum [GeV]"); }, "end");

// y title, rotated: fitted along its reading direction
var yTitle = svg.append("text")
    .attr("font-size", 30)
    .attr("text-anchor", "end");
yTitle.append("tspan").text("dE/dx/\u03C1");
yTitle.append("tspan").attr("font-size", 21).attr("dy", 8).text("Si");
yTitle.append("tspan").attr("dy", -8).text(" [MeV g");
yTitle.append("tspan").attr("font-size", 21).attr("dy", -12).text("-1");
yTitle.append("tspan").attr("dy", 12).text(" cm");
yTitle.append("tspan").attr("font-size", 21).attr("dy", -12).text("2");
yTitle.append("tspan").attr("dy", 12).text("]");
var yLen = yTitle.node().getComputedTextLength();
yTitle.attr("transform", "translate(62,32) rotate(-90) scale(" + (353 / yLen) + ",1)");

//////////////////////////////////////////////////////////////////////////////
// Arrow pasted on the slide

svg.append("line")
    .attr("x1", 0).attr("y1", 432).attr("x2", 88).attr("y2", 432)
    .attr("stroke", "#5b8cc8").attr("stroke-width", 5);
svg.append("path")
    .attr("d", "M84,422 L102,432 L84,442 Z")
    .attr("fill", "#5b8cc8");
</script>
</body>
</html>
